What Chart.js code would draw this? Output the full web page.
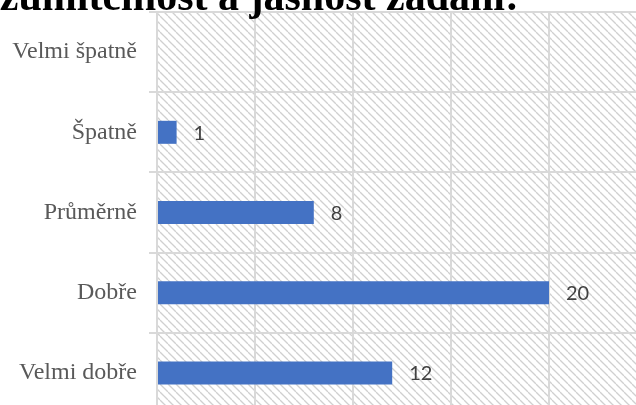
<!DOCTYPE html>
<html lang="cs">
<head>
<meta charset="utf-8">
<title>Srozumitelnost a jasnost zadání</title>
<script src="https://cdn.jsdelivr.net/npm/chart.js@4"></script>
<style>
  html, body { margin: 0; padding: 0; background: #fff; overflow: hidden; }
  #wrap { position: absolute; left: 0; top: 0; }
</style>
</head>
<body>
<div id="wrap"><canvas id="chart" width="660" height="425"></canvas></div>
<script>
const TITLE = "Srozumitelnost a jasnost zadání:";
const categories = ["Velmi špatně", "Špatně", "Průměrně", "Dobře", "Velmi dobře"];
const counts = [0, 1, 8, 20, 12];
const xTicks = [0, 5, 10, 15, 20, 25];

const GRID = "#d9d9d9";
const BAR = "#4472c4";

// light downward diagonal hatch for the plot area
const makeHatch = (ctx, size) => {
  const tile = document.createElement("canvas");
  tile.width = size;
  tile.height = size;
  const t = tile.getContext("2d");
  t.strokeStyle = "#d0d0d0";
  t.lineWidth = 1.3;
  [-size, 0, size].forEach((x0) => {
    t.beginPath();
    t.moveTo(x0, 0);
    t.lineTo(x0 + size, size);
    t.stroke();
  });
  return ctx.createPattern(tile, "repeat");
};

const background = {
  id: "background",
  beforeDraw(chart) {
    const { ctx, chartArea: a } = chart;
    ctx.save();
    ctx.fillStyle = "#fff";
    ctx.fillRect(0, 0, chart.width, chart.height);
    ctx.fillStyle = makeHatch(ctx, 8);
    ctx.fillRect(a.left, a.top, a.right - a.left, a.bottom - a.top);
    ctx.restore();
  },
  afterDraw(chart) {
    const { ctx } = chart;
    ctx.save();
    ctx.font = 'bold 42px "Liberation Serif", "Times New Roman", serif';
    ctx.fillStyle = "#000";
    ctx.textAlign = "right";
    ctx.textBaseline = "alphabetic";
    ctx.fillText(TITLE, 519, 10);
    ctx.restore();
  },
};

const valueLabels = {
  id: "valueLabels",
  afterDatasetsDraw(chart) {
    const { ctx } = chart;
    const meta = chart.getDatasetMeta(0);
    ctx.save();
    ctx.font = '20px Lato, "Open Sans", sans-serif';
    ctx.fillStyle = "#404040";
    ctx.textAlign = "left";
    ctx.textBaseline = "middle";
    meta.data.forEach((bar, i) => {
      const v = counts[i];
      if (!v) return;
      ctx.fillText(String(v), bar.x + 17, bar.y + 1);
    });
    ctx.restore();
  },
};

new Chart(document.getElementById("chart"), {
  type: "bar",
  data: {
    labels: categories,
    datasets: [
      {
        data: counts,
        backgroundColor: BAR,
        borderWidth: 0,
        barPercentage: 0.287,
        categoryPercentage: 1,
      },
    ],
  },
  options: {
    responsive: false,
    animation: false,
    devicePixelRatio: 1,
    indexAxis: "y",
    layout: { padding: { top: 12, right: 13, bottom: 12, left: 0 } },
    scales: {
      x: {
        min: xTicks[0],
        max: xTicks[xTicks.length - 1],
        afterBuildTicks: (scale) => {
          scale.ticks = xTicks.map((value) => ({ value }));
        },
        afterFit: (scale) => {
          scale.height = 0;
          scale.paddingLeft = 0;
          scale.paddingRight = 0;
        },
        ticks: { display: false },
        grid: { color: GRID, lineWidth: 2, drawTicks: false },
        border: { display: false },
      },
      y: {
        afterFit: (scale) => {
          scale.width = 157;
          scale.paddingTop = 0;
          scale.paddingBottom = 0;
        },
        ticks: {
          color: "#595959",
          padding: 12,
          font: { family: '"Liberation Serif", "Times New Roman", serif', size: 24 },
        },
        grid: { color: GRID, lineWidth: 2, tickLength: 8, offset: true },
        border: { display: false },
      },
    },
    plugins: {
      legend: { display: false },
      tooltip: { enabled: false },
    },
  },
  plugins: [background, valueLabels],
});
</script>
</body>
</html>
